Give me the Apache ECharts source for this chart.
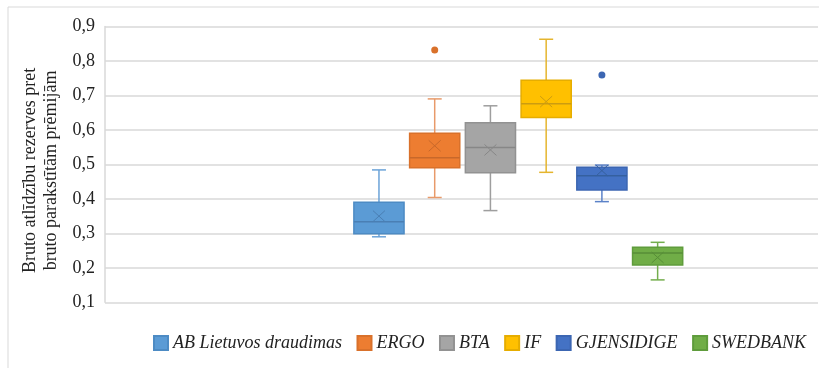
<!DOCTYPE html>
<html>
	<head>
		<meta charset="UTF-8">
		<title>Bruto atlīdzību rezerves</title>
		<style>
			html, body { margin: 0; padding: 0; background: #fff; }
			#main { width: 819px; height: 368px; }
		</style>
	</head>
	<body>
		<div id="main"></div>

		<script src="https://cdn.jsdelivr.net/npm/echarts@6/dist/echarts.min.js"></script>
		<script>
			// companies (legend order)
			var companies = ['AB Lietuvos draudimas', 'ERGO', 'BTA', 'IF', 'GJENSIDIGE', 'SWEDBANK'];
			// box plot values
			var whiskerLow  = [0.290, 0.404, 0.366, 0.477, 0.392, 0.165];
			var q1          = [0.299, 0.490, 0.476, 0.636, 0.426, 0.208];
			var medians     = [0.334, 0.519, 0.549, 0.676, 0.467, 0.243];
			var q3          = [0.390, 0.590, 0.621, 0.744, 0.492, 0.260];
			var whiskerHigh = [0.484, 0.690, 0.670, 0.863, 0.498, 0.274];
			var means       = [0.350, 0.554, 0.542, 0.682, 0.482, 0.230];
			var outliers    = [[], [0.832], [], [], [0.759], []];
			// y axis
			var yMin = 0.1, yMax = 0.9, yStep = 0.1;

			var fills    = ['#5B9BD5', '#ED7D31', '#A5A5A5', '#FFC000', '#4472C4', '#70AD47'];
			var borders  = ['#4D8BC4', '#D9712B', '#929292', '#E6AD00', '#3C66B2', '#5F9C3C'];
			var whiskers = ['#6BA3D8', '#E89A6A', '#9E9E9E', '#E5B52E', '#5B82C8', '#74AE4E'];
			var marks    = ['#4A7FB4', '#C8682A', '#878787', '#CC9C10', '#35609F', '#578E37'];

			var myChart = echarts.init(document.getElementById('main'));

			// one box drawn through the category / value scales
			function makeRender(i) {
				return function (params, api) {
					var x = api.value(0);
					var band = api.size([1, 0])[0];
					var half = band * 0.45;
					var cap = 7;
					var pLow = api.coord([x, api.value(1)]);
					var pQ1 = api.coord([x, api.value(2)]);
					var pMed = api.coord([x, api.value(3)]);
					var pQ3 = api.coord([x, api.value(4)]);
					var pHigh = api.coord([x, api.value(5)]);
					var pMean = api.coord([x, api.value(6)]);
					var cx = pMed[0];
					var wStyle = { stroke: whiskers[i], lineWidth: 1.5 };
					var children = [
						{ type: 'line', shape: { x1: cx, y1: pLow[1], x2: cx, y2: pQ1[1] }, style: wStyle },
						{ type: 'line', shape: { x1: cx, y1: pQ3[1], x2: cx, y2: pHigh[1] }, style: wStyle },
						{ type: 'line', shape: { x1: cx - cap, y1: pLow[1], x2: cx + cap, y2: pLow[1] }, style: wStyle },
						{ type: 'line', shape: { x1: cx - cap, y1: pHigh[1], x2: cx + cap, y2: pHigh[1] }, style: wStyle },
						{
							type: 'rect',
							shape: { x: cx - half, y: pQ3[1], width: half * 2, height: pQ1[1] - pQ3[1] },
							style: { fill: fills[i], stroke: borders[i], lineWidth: 1.5 }
						},
						{ type: 'line', shape: { x1: cx - half, y1: pMed[1], x2: cx + half, y2: pMed[1] }, style: { stroke: marks[i], lineWidth: 1.5 } },
						{ type: 'line', shape: { x1: cx - 6, y1: pMean[1] - 5.5, x2: cx + 6, y2: pMean[1] + 5.5 }, style: { stroke: marks[i], lineWidth: 1 } },
						{ type: 'line', shape: { x1: cx - 6, y1: pMean[1] + 5.5, x2: cx + 6, y2: pMean[1] - 5.5 }, style: { stroke: marks[i], lineWidth: 1 } }
					];
					// outlier points
					for (var k = 0; k < outliers[i].length; k++) {
						var p = api.coord([x, outliers[i][k]]);
						children.push({ type: 'circle', shape: { cx: cx, cy: p[1], r: 3.5 }, style: { fill: borders[i] } });
					}
					return { type: 'group', children: children };
				};
			}

			var series = [];
			for (var i = 0; i < companies.length; i++) {
				series.push({
					name: companies[i],
					type: 'custom',
					xAxisIndex: 1,
					yAxisIndex: 1,
					clip: false,
					itemStyle: { color: fills[i], borderColor: borders[i], borderWidth: 1 },
					encode: { x: 0, y: [1, 2, 3, 4, 5, 6] },
					renderItem: makeRender(i),
					data: [[i, whiskerLow[i], q1[i], medians[i], q3[i], whiskerHigh[i], means[i]]]
				});
			}

			var option = {
				animation: false,
				graphic: [{
					type: 'rect',
					shape: { x: 8, y: 7, width: 840, height: 400 },
					style: { fill: 'none', stroke: '#D9D9D9', lineWidth: 1 },
					silent: true
				}],
				grid: [
					{ left: 105, right: 1, top: 26.5, bottom: 65.7 },
					{ left: 351.1, width: 334.4, top: 26.5, bottom: 65.7 }
				],
				xAxis: [
					{ type: 'value', gridIndex: 0, show: false },
					{ type: 'category', gridIndex: 1, data: companies, show: false }
				],
				yAxis: [
					{
						type: 'value',
						gridIndex: 0,
						min: yMin,
						max: yMax,
						interval: yStep,
						name: 'Bruto atlīdzību rezerves pret\nbruto parakstītām prēmijām',
						nameLocation: 'middle',
						nameRotate: 90,
						nameGap: 42.5,
						nameTextStyle: {
							fontFamily: 'Liberation Serif',
							fontSize: 18,
							color: '#222',
							lineHeight: 21,
							padding: [0, 12, 0, 0]
						},
						axisLine: { show: true, lineStyle: { color: '#D9D9D9', width: 1.5 } },
						axisTick: { show: false },
						axisLabel: {
							margin: 10,
							fontFamily: 'Liberation Serif',
							fontSize: 18,
							color: '#222',
							formatter: function (v) { return v.toFixed(1).replace('.', ','); }
						},
						splitLine: { lineStyle: { color: '#D9D9D9', width: 1.5 } }
					},
					{ type: 'value', gridIndex: 1, min: yMin, max: yMax, interval: yStep, show: false }
				],
				legend: {
					data: companies,
					left: 148,
					top: 329,
					icon: 'rect',
					itemWidth: 14,
					itemHeight: 14,
					itemGap: 14.5,
					textStyle: { fontFamily: 'Liberation Serif', fontStyle: 'italic', fontSize: 18, color: '#222' }
				},
				series: series
			};

			myChart.setOption(option);
		</script>
	</body>
</html>
